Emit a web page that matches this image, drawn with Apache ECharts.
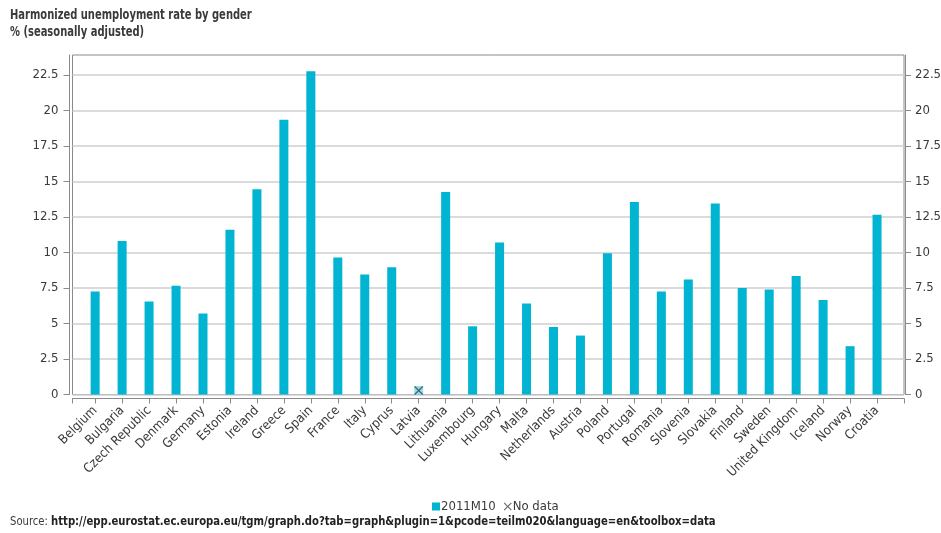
<!DOCTYPE html>
<html>
<head>
<meta charset="utf-8">
<script src="https://cdn.jsdelivr.net/npm/echarts@6/dist/echarts.min.js"></script>
<style>
  html, body { margin: 0; padding: 0; background: #fff; }
  #chart { width: 941px; height: 533px; }
</style>
</head>
<body>
<div id="chart"></div>
<script>
// Harmonized unemployment rate, % (seasonally adjusted), October 2011
const countries = ['Belgium', 'Bulgaria', 'Czech Republic', 'Denmark', 'Germany', 'Estonia', 'Ireland',
  'Greece', 'Spain', 'France', 'Italy', 'Cyprus', 'Latvia', 'Lithuania', 'Luxembourg', 'Hungary',
  'Malta', 'Netherlands', 'Austria', 'Poland', 'Portugal', 'Romania', 'Slovenia', 'Slovakia',
  'Finland', 'Sweden', 'United Kingdom', 'Iceland', 'Norway', 'Croatia'];
const rate2011M10 = [7.25, 10.8, 6.55, 7.65, 5.7, 11.6, 14.45, 19.35, 22.75, 9.65, 8.45, 8.95, null,
  14.25, 4.8, 10.7, 6.4, 4.75, 4.15, 9.95, 13.55, 7.25, 8.1, 13.45, 7.5, 7.4, 8.35, 6.65, 3.4, 12.65];
const noDataCountries = ['Latvia'];
const yTicks = [0, 2.5, 5, 7.5, 10, 12.5, 15, 17.5, 20, 22.5];
const yMax = 23.9;
const seriesName = '2011M10';
const noDataName = 'No data';

const FONT = "'Liberation Sans Narrow', 'DejaVu Sans Condensed', sans-serif";
const TEXT = '#3a3a3a';
const BAR = '#00b4d2';
const CROSS = 'path://M0,1 L1,0 L5,4 L9,0 L10,1 L6,5 L10,9 L9,10 L5,6 L1,10 L0,9 L4,5 Z';

const idx = countries.map((c, i) => i);
const xMin = -0.84, xMax = 30;

const barData = rate2011M10.map((v, i) => [i, v]);
const noDataPts = noDataCountries.map(c => [countries.indexOf(c), 0]);

const chart = echarts.init(document.getElementById('chart'), null, { renderer: 'canvas' });

const yAxisCommon = {
  type: 'value', min: 0, max: yMax, interval: 2.5,
  axisLine: { show: true, onZero: false, lineStyle: { color: '#8a8a8a', width: 1 } },
  axisTick: { show: true, inside: false, length: 6, customValues: yTicks, lineStyle: { color: '#8a8a8a' } },
  axisLabel: {
    customValues: yTicks, color: TEXT, fontFamily: FONT, fontSize: 13,
    formatter: v => String(v)
  }
};

chart.setOption({
  animation: false,
  backgroundColor: '#fff',
  textStyle: { fontFamily: FONT },
  grid: {
    left: 72.5, right: 37, top: 55, bottom: 138.5,
    outerBoundsMode: 'none', containLabel: false,
    show: true, borderColor: '#8a8a8a', borderWidth: 1, backgroundColor: 'transparent'
  },
  legend: {
    left: 427, top: 495,
    itemWidth: 8, itemHeight: 8, itemGap: 8,
    textStyle: { color: TEXT, fontFamily: FONT, fontSize: 13, padding: [0, 0, 0, -4] },
    data: [
      { name: seriesName, icon: 'rect' },
      { name: noDataName, icon: CROSS, itemStyle: { color: '#444' } }
    ]
  },
  xAxis: {
    type: 'value', min: xMin, max: xMax, offset: 4,
    axisLine: { show: true, onZero: false, lineStyle: { color: '#8a8a8a' } },
    axisTick: { show: true, length: 5, customValues: [xMin].concat(idx, [xMax]), lineStyle: { color: '#8a8a8a' } },
    splitLine: { show: false },
    axisLabel: {
      customValues: idx, rotate: 45, margin: 10,
      color: TEXT, fontFamily: FONT, fontSize: 13,
      formatter: v => countries[Math.round(v)]
    }
  },
  yAxis: [
    Object.assign({}, yAxisCommon, {
      position: 'left', offset: 3,
      splitLine: { show: true, lineStyle: { color: '#cfcfcf', width: 1.5 } },
      axisLabel: Object.assign({}, yAxisCommon.axisLabel, { margin: 11 })
    }),
    Object.assign({}, yAxisCommon, {
      position: 'right', offset: 1,
      splitLine: { show: false },
      axisLabel: Object.assign({}, yAxisCommon.axisLabel, { margin: 10 })
    })
  ],
  graphic: [
    {
      type: 'text', x: 10, y: 8, scaleX: 0.79,
      style: { text: 'Harmonized unemployment rate by gender', fill: TEXT, font: 'bold 14px ' + FONT }
    },
    {
      type: 'text', x: 10, y: 25, scaleX: 0.79,
      style: { text: '% (seasonally adjusted)', fill: TEXT, font: 'bold 14px ' + FONT }
    },
    {
      type: 'text', x: 10, y: 515, scaleX: 0.86,
      style: {
        text: '{a|Source: }{b|http://epp.eurostat.ec.europa.eu/tgm/graph.do?tab=graph&plugin=1&pcode=teilm020&language=en&toolbox=data}',
        rich: {
          a: { fill: TEXT, font: '13px ' + FONT },
          b: { fill: '#222', font: 'bold 13px ' + FONT }
        }
      }
    }
  ],
  series: [
    {
      name: seriesName, type: 'bar', xAxisIndex: 0, yAxisIndex: 0,
      barWidth: 9, itemStyle: { color: BAR },
      data: barData
    },
    {
      name: noDataName, type: 'scatter', xAxisIndex: 0, yAxisIndex: 0,
      symbol: CROSS, symbolSize: 9, symbolOffset: [0, -4],
      itemStyle: { color: '#2f4a52' }, z: 5,
      data: noDataPts
    },
    {
      type: 'scatter', xAxisIndex: 0, yAxisIndex: 0, silent: true,
      symbol: 'rect', symbolSize: 9, symbolOffset: [0, -4],
      itemStyle: { color: '#7fd6e6' }, z: 4,
      data: noDataPts
    }
  ]
});
</script>
</body>
</html>
